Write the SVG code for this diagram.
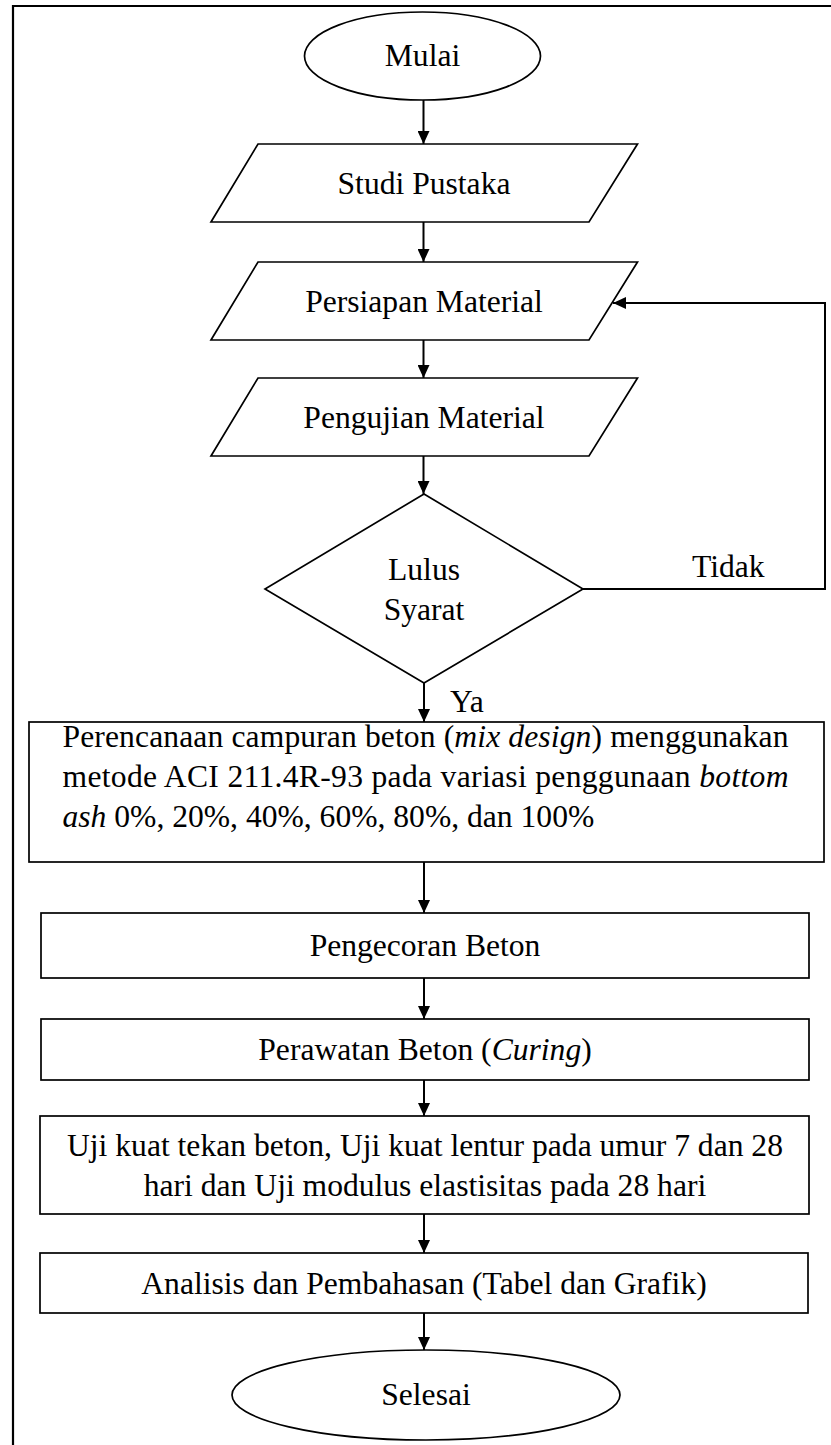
<svg xmlns="http://www.w3.org/2000/svg" width="831" height="1445" viewBox="0 0 831 1445">
<defs>
<style>
.s{fill:#fff;stroke:#000;stroke-width:1.7}
.c{fill:none;stroke:#000;stroke-width:2}
.t{font-family:"Liberation Serif","Times New Roman",serif;font-size:31.6px;fill:#000}
.m{text-anchor:middle}
.i{font-style:italic}
</style>
<marker id="ah" markerUnits="userSpaceOnUse" markerWidth="13" markerHeight="12" refX="13" refY="6" orient="auto">
<path d="M0,0 L13,6 L0,12 z" fill="#000"/>
</marker>
</defs>
<rect width="831" height="1445" fill="#fff"/>
<path d="M13,1445 V6 H831" fill="none" stroke="#000" stroke-width="2.2"/>
<g id="mulai"><ellipse class="s" cx="422.5" cy="56" rx="118" ry="44"/><text class="t m" x="422.5" y="66">Mulai</text></g>
<g id="studi"><polygon class="s" points="258,144 637.5,144 589,222 211,222"/><text class="t m" x="424" y="193.5">Studi Pustaka</text></g>
<g id="persiapan"><polygon class="s" points="258,262 637.5,262 589,340 211,340"/><text class="t m" x="424" y="311.5">Persiapan Material</text></g>
<g id="pengujian"><polygon class="s" points="258,378 637.5,378 589,456 211,456"/><text class="t m" x="424" y="427.5">Pengujian Material</text></g>
<g id="lulus"><polygon class="s" points="424,494 583,589 424,683 265,589"/><text class="t m" x="424" y="580">Lulus</text><text class="t m" x="424" y="620">Syarat</text></g>
<g id="mix"><rect class="s" x="29" y="722" width="795" height="140"/>
<text class="t" x="62.5" y="747" textLength="726" lengthAdjust="spacing">Perencanaan campuran beton (<tspan class="i">mix design</tspan>) menggunakan</text>
<text class="t" x="62.5" y="787" textLength="726" lengthAdjust="spacing">metode ACI 211.4R-93 pada variasi penggunaan <tspan class="i">bottom</tspan></text>
<text class="t" x="62.5" y="827"><tspan class="i">ash</tspan> 0%, 20%, 40%, 60%, 80%, dan 100%</text></g>
<g id="pengecoran"><rect class="s" x="41" y="913" width="768" height="65"/><text class="t m" x="425" y="956">Pengecoran Beton</text></g>
<g id="perawatan"><rect class="s" x="41" y="1019" width="768" height="61"/><text class="t m" x="425" y="1060">Perawatan Beton (<tspan class="i">Curing</tspan>)</text></g>
<g id="uji"><rect class="s" x="40" y="1116" width="769" height="98"/><text class="t m" x="425" y="1156">Uji kuat tekan beton, Uji kuat lentur pada umur 7 dan 28</text><text class="t m" x="425" y="1196">hari dan Uji modulus elastisitas pada 28 hari</text></g>
<g id="analisis"><rect class="s" x="40" y="1253" width="768" height="60"/><text class="t m" x="424" y="1293.5">Analisis dan Pembahasan (Tabel dan Grafik)</text></g>
<g id="selesai"><ellipse class="s" cx="426" cy="1395" rx="194" ry="45"/><text class="t m" x="426" y="1405">Selesai</text></g>
<g id="connectors">
<line class="c" x1="423.5" y1="100" x2="423.5" y2="144" marker-end="url(#ah)"/>
<line class="c" x1="423.5" y1="222" x2="423.5" y2="262" marker-end="url(#ah)"/>
<line class="c" x1="423.5" y1="340" x2="423.5" y2="378" marker-end="url(#ah)"/>
<line class="c" x1="423.5" y1="456" x2="423.5" y2="494" marker-end="url(#ah)"/>
<line class="c" x1="424" y1="683" x2="424" y2="722" marker-end="url(#ah)"/>
<line class="c" x1="424" y1="862" x2="424" y2="913" marker-end="url(#ah)"/>
<line class="c" x1="424" y1="978" x2="424" y2="1019" marker-end="url(#ah)"/>
<line class="c" x1="424" y1="1080" x2="424" y2="1116" marker-end="url(#ah)"/>
<line class="c" x1="424" y1="1214" x2="424" y2="1253" marker-end="url(#ah)"/>
<line class="c" x1="424" y1="1313" x2="424" y2="1350" marker-end="url(#ah)"/>
<path class="c" d="M583,589 H825 V303 H613" marker-end="url(#ah)"/>
<text class="t" x="692" y="577">Tidak</text>
<text class="t" x="450" y="712">Ya</text>
</g>
</svg>
